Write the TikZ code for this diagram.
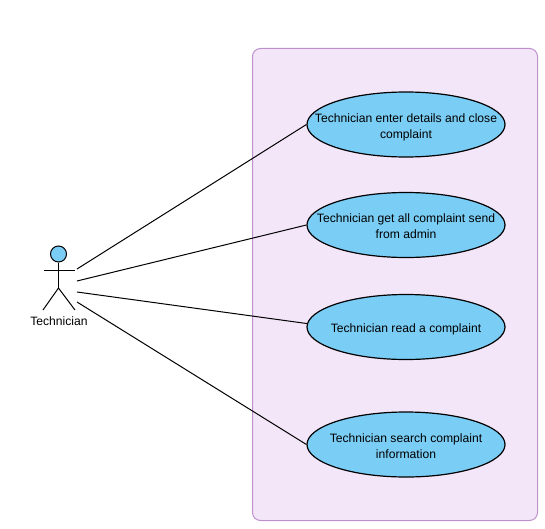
\documentclass[tikz,border=0pt]{standalone}
\usepackage{fontspec}
\setmainfont{Liberation Sans}
\usetikzlibrary{shapes.geometric}

\definecolor{sysfill}{RGB}{244,230,249}
\definecolor{sysline}{RGB}{190,145,205}
\definecolor{ucfill}{RGB}{122,205,245}

\newcommand{\uclabel}[1]{\raisebox{-2pt}[\height][\depth]{\begin{tabular}{@{}c@{}}#1\end{tabular}}}

\tikzset{every picture/.style={line width=0.75pt}}
\tikzset{
    usecase/.style={ellipse,draw,fill=ucfill,line width=0.9pt,minimum width=148.5pt,minimum height=48.75pt,inner xsep=-30pt,inner ysep=-10pt,font=\fontsize{9.1pt}{12pt}\selectfont},
    assoc/.style={draw,line width=0.75pt},
}

\begin{document}
\begin{tikzpicture}[x=0.75pt,y=0.75pt,yscale=-1,xscale=1]
    \useasboundingbox (0,0) rectangle (545,528);

    %System boundary
    \node (system) [draw=sysline,fill=sysfill,rounded corners=6pt,minimum width=213.75pt,minimum height=354pt,inner sep=0pt] at (395,284.5) {};

    %Use cases
    \node (enterDetails) [usecase] at (406,124.5) {\uclabel{Technician enter details and close\\complaint}};
    \node (getComplaint) [usecase] at (406,225) {\uclabel{Technician get all complaint send\\from admin}};
    \node (readComplaint) [usecase] at (406,327) {\uclabel{Technician read a complaint}};
    \node (searchComplaint) [usecase] at (406,444.5) {\uclabel{Technician search complaint\\information}};

    %Actor
    \node (head) [circle,draw,fill=ucfill,minimum size=12pt,inner sep=0pt] at (58.5,254) {};
    \coordinate (armL) at (43.5,270);
    \coordinate (armR) at (75,270);
    \coordinate (hip) at (58.5,288);
    \coordinate (footL) at (43,310);
    \coordinate (footR) at (75,310);
    \draw (head.south) -- (hip);
    \draw (armL) -- (armR);
    \draw (footL) -- (hip) -- (footR);
    \node (actor) [font=\fontsize{9.1pt}{12pt}\selectfont] at (59,321) {Technician};

    %Associations
    \coordinate (endA) at (77,269);
    \coordinate (endB) at (77,281);
    \coordinate (endC) at (77,292);
    \coordinate (endD) at (77,302);
    \draw [assoc] (endA) -- (enterDetails.west);
    \draw [assoc] (endB) -- (getComplaint.west);
    \draw [assoc] (endC) -- (readComplaint.178.5);
    \draw [assoc] (endD) -- (searchComplaint.west);
\end{tikzpicture}
\end{document}
